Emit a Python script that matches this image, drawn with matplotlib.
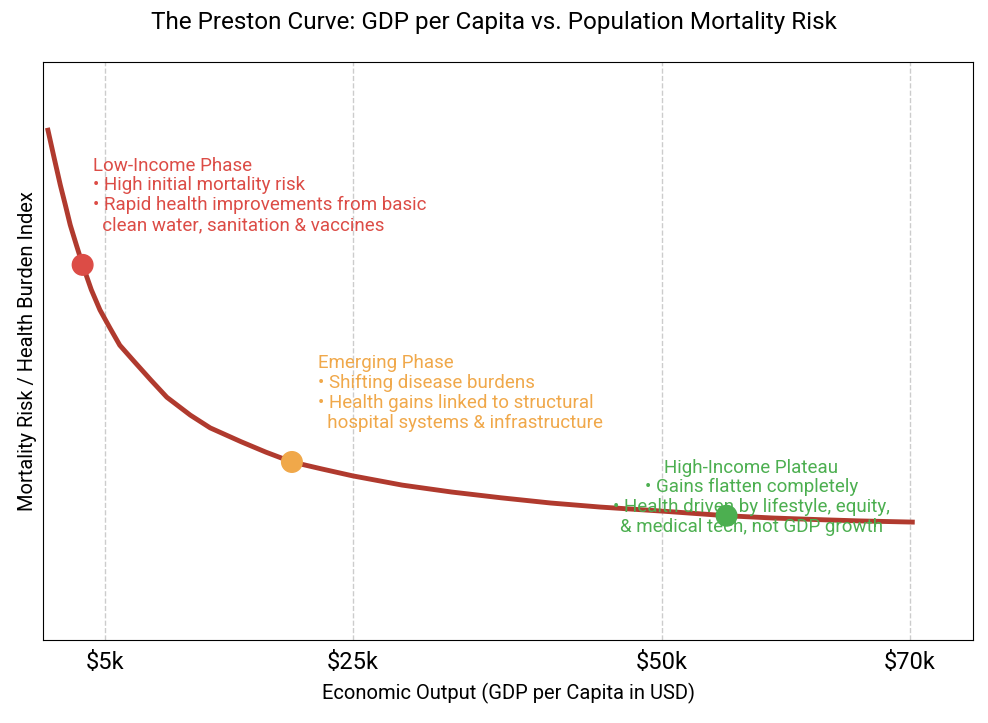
import matplotlib
matplotlib.use("Agg")
import matplotlib.pyplot as plt

plt.rcParams['font.family'] = ['Roboto', 'DejaVu Sans']

gdp_k = [0.4, 0.9, 1.4, 1.8, 2.2, 2.7, 3.2, 3.9, 4.6, 5.4, 6.2, 7.4, 8.7, 10.0, 11.9, 13.5,
         16.0, 18.0, 20.1, 22.5, 25.0, 29.0, 33.0, 37.0, 41.0, 45.0, 50.0, 55.2, 59.0, 63.0, 66.0, 70.2]
risk = [88.2, 83.4, 78.7, 75.3, 71.8, 68.3, 64.9, 60.6, 57.1, 54.0, 51.0, 48.1, 45.0, 42.0, 38.9, 36.7,
        34.3, 32.5, 30.8, 29.6, 28.4, 26.8, 25.6, 24.6, 23.7, 23.0, 22.3, 21.5, 21.1, 20.8, 20.6, 20.4]
phase_x = [3.2, 20.1, 55.2]
phase_y = [64.9, 30.8, 21.5]
phase_colors = ['#dc4c46', '#f0a84a', '#4caf50']
tick_vals = [5, 25, 50, 70]
tick_labels = ['$5k', '$25k', '$50k', '$70k']

fig = plt.figure(figsize=(9.88, 7.23), dpi=100)
ax = fig.add_axes([43/988, 1-640/723, 930/988, 578/723])
ax.plot(gdp_k, risk, color='#b03a2e', lw=3.5, zorder=2, solid_joinstyle='round')
ax.scatter(phase_x, phase_y, s=220, c=phase_colors, zorder=3)
ax.set_xlim(0, 75.1)
ax.set_ylim(0, 100)
ax.set_yticks([])
ax.set_xticks(tick_vals)
ax.set_xticklabels(tick_labels, fontsize=17)
ax.tick_params(axis='x', length=0, pad=8)
ax.grid(axis='x', ls='--', color='#cccccc', lw=1)
ax.set_axisbelow(True)
ax.set_xlabel('Economic Output (GDP per Capita in USD)', fontsize=14.5, labelpad=6)
ax.set_ylabel('Mortality Risk / Health Burden Index', fontsize=14.5)
fig.suptitle('The Preston Curve: GDP per Capita vs. Population Mortality Risk', fontsize=17.5, y=0.985)

fs = 13.5
ax.text(4.05, 83.6, 'Low-Income Phase\n• High initial mortality risk\n• Rapid health improvements from basic\n  clean water, sanitation & vaccines',
        color=phase_colors[0], fontsize=fs, va='top', ha='left', linespacing=1.12)
ax.text(22.2, 49.4, 'Emerging Phase\n• Shifting disease burdens\n• Health gains linked to structural\n  hospital systems & infrastructure',
        color=phase_colors[1], fontsize=fs, va='top', ha='left', linespacing=1.12)
ax.text(57.2, 31.4, 'High-Income Plateau\n• Gains flatten completely\n• Health driven by lifestyle, equity,\n& medical tech, not GDP growth',
        color=phase_colors[2], fontsize=fs, va='top', ha='center', multialignment='center', linespacing=1.12)

fig.savefig('out.png', dpi=100)
